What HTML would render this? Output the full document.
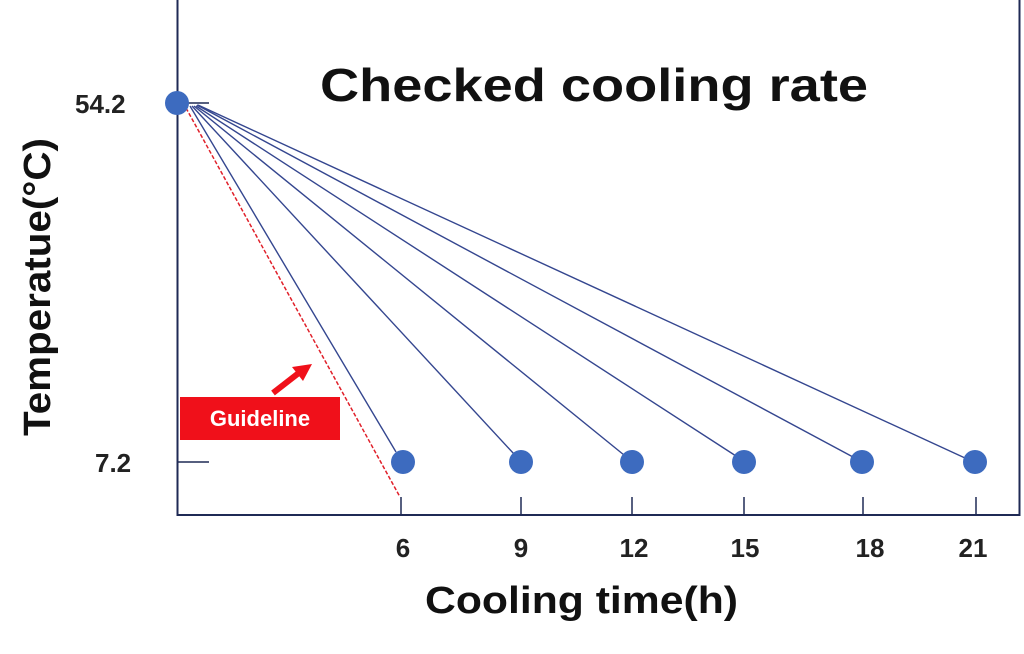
<!DOCTYPE html>
<html><head><style>
body{margin:0;background:#fff;width:1024px;height:649px;overflow:hidden}
text{font-family:"Liberation Sans","DejaVu Sans",sans-serif}
</style></head><body>
<svg width="1024" height="649" xmlns="http://www.w3.org/2000/svg">
<rect x="177.5" y="-2" width="842" height="517" fill="none" stroke="#1f2a55" stroke-width="2"/>
<g stroke="#1f2a55" stroke-width="1.5">
<line x1="178" y1="103" x2="209" y2="103"/>
<line x1="178" y1="462" x2="209" y2="462"/>
<line x1="401" y1="497" x2="401" y2="515"/>
<line x1="521" y1="497" x2="521" y2="515"/>
<line x1="632" y1="497" x2="632" y2="515"/>
<line x1="744" y1="497" x2="744" y2="515"/>
<line x1="863" y1="497" x2="863" y2="515"/>
<line x1="976" y1="497" x2="976" y2="515"/>
</g>
<g stroke="#34468f" stroke-width="1.4">
<line x1="190" y1="106" x2="396" y2="452"/>
<line x1="192" y1="106" x2="514" y2="454"/>
<line x1="194" y1="106" x2="624" y2="455"/>
<line x1="196" y1="106" x2="736" y2="456"/>
<line x1="197" y1="105" x2="853" y2="457"/>
<line x1="198" y1="105" x2="965" y2="458"/>
</g>
<line x1="186" y1="108" x2="400" y2="497" stroke="#e0202a" stroke-width="1.5" stroke-dasharray="4,2"/>
<g fill="#3d6bbf">
<circle cx="177" cy="103" r="12"/>
<circle cx="403" cy="462" r="12"/>
<circle cx="521" cy="462" r="12"/>
<circle cx="632" cy="462" r="12"/>
<circle cx="744" cy="462" r="12"/>
<circle cx="862" cy="462" r="12"/>
<circle cx="975" cy="462" r="12"/>
</g>
<rect x="180" y="397" width="160" height="43" fill="#f0101a"/>
<text x="260" y="426" font-size="22" font-weight="bold" fill="#fff" text-anchor="middle">Guideline</text>
<line x1="273" y1="393" x2="300" y2="372" stroke="#f0101a" stroke-width="6"/>
<polygon points="312,364 292,367 303,381" fill="#f0101a"/>
<text x="320" y="101" font-size="46" font-weight="bold" fill="#111" textLength="548" lengthAdjust="spacingAndGlyphs">Checked cooling rate</text>
<text x="75" y="113" font-size="26" font-weight="bold" fill="#222">54.2</text>
<text x="95" y="472" font-size="26" font-weight="bold" fill="#222">7.2</text>
<g font-size="26" font-weight="bold" fill="#222" text-anchor="middle">
<text x="403" y="557">6</text><text x="521" y="557">9</text><text x="634" y="557">12</text>
<text x="745" y="557">15</text><text x="870" y="557">18</text><text x="973" y="557">21</text>
</g>
<text x="425" y="613" font-size="38" font-weight="bold" fill="#111" textLength="313" lengthAdjust="spacingAndGlyphs">Cooling time(h)</text>
<text transform="translate(50,436) rotate(-90)" font-size="38" font-weight="bold" fill="#111" textLength="298" lengthAdjust="spacingAndGlyphs">Temperatue(°C)</text>
</svg>
</body></html>
